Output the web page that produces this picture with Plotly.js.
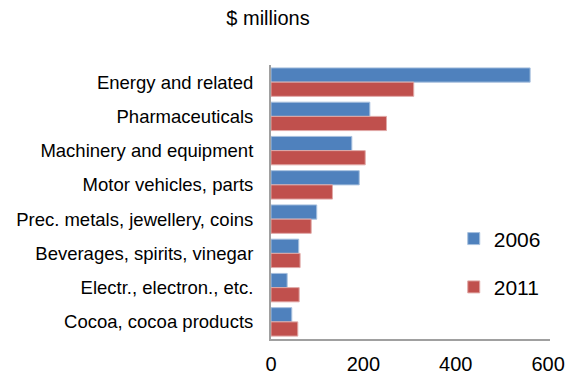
<!DOCTYPE html>
<html><head><meta charset="utf-8">
<script src="https://cdn.plot.ly/plotly-3.0.1.min.js"></script>
<style>html,body{margin:0;padding:0;background:#fff;}#chart{width:579px;height:377px;}</style>
</head><body><div id="chart"></div>
<script>
const categories = ["Energy and related","Pharmaceuticals","Machinery and equipment","Motor vehicles, parts","Prec. metals, jewellery, coins","Beverages, spirits, vinegar","Electr., electron., etc.","Cocoa, cocoa products"];
const values2006 = [561, 214, 175, 191, 99, 60, 35, 45];
const values2011 = [309, 250, 204, 133, 87, 63, 61, 58];
const seriesNames = ["2006","2011"];

const traces = [
  {type:'bar', orientation:'h', name:seriesNames[0], y:categories, x:values2006, legendgroup:'a',
   marker:{color:'#4F81BD', line:{color:'#A7C0DE', width:1}}},
  {type:'bar', orientation:'h', name:seriesNames[1], y:categories, x:values2011, legendgroup:'b',
   marker:{color:'#C0504D', line:{color:'#E0A8A6', width:1}}}
];
const layout = {
  width:579, height:377,
  margin:{l:271, r:29, t:65, b:38},
  paper_bgcolor:'#fff', plot_bgcolor:'#fff',
  font:{family:'Liberation Sans, Arial, sans-serif', color:'#000'},
  title:{text:'$ millions', font:{size:20}, x:268/579, xref:'container', xanchor:'center', y:0.952, yref:'container', yanchor:'middle'},
  barmode:'group', bargap:0.17, bargroupgap:0,
  xaxis:{range:[0,604], tickvals:[0,200,400,600], showgrid:false, zeroline:false,
    showline:true, linecolor:'#A0A0A0', linewidth:2, ticks:'outside', ticklen:6, tickcolor:'rgba(0,0,0,0)',
    tickfont:{size:20}},
  yaxis:{autorange:'reversed', showgrid:false, zeroline:false, showline:true, linecolor:'#A0A0A0', linewidth:2,
    ticks:'outside', ticklen:12, tickcolor:'rgba(0,0,0,0)', tickfont:{size:18.5}},
  legend:{x:0.655, y:0.44, xanchor:'left', yanchor:'top', font:{size:21}, traceorder:'grouped', tracegroupgap:18,
    bgcolor:'rgba(0,0,0,0)'},
  showlegend:true
};
Plotly.newPlot('chart', traces, layout, {displayModeBar:false, staticPlot:true});
</script></body></html>
